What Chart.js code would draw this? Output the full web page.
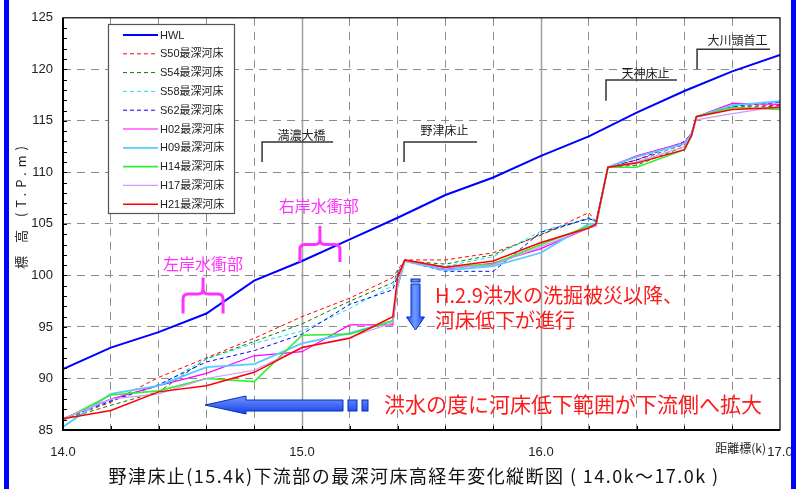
<!DOCTYPE html>
<html>
<head>
<meta charset="utf-8">
<script src="https://cdn.jsdelivr.net/npm/chart.js@4.4.0/dist/chart.umd.min.js"></script>
<style>
html, body { margin: 0; padding: 0; background: #fff; }
canvas { display: block; }
</style>
</head>
<body>
<canvas id="chart" width="810" height="489"></canvas>
<script>
// distance marks (k) shared by the riverbed surveys
var km = [14.0, 14.2, 14.4, 14.6, 14.8, 15.0, 15.2, 15.38, 15.40, 15.43, 15.6, 15.8, 16.0, 16.2, 16.23, 16.28, 16.4, 16.6, 16.63, 16.65, 16.8, 17.0];

var hwlKm = [14.0, 14.2, 14.4, 14.6, 14.8, 15.0, 15.2, 15.4, 15.6, 15.8, 16.0, 16.2, 16.4, 16.6, 16.8, 17.0];
var hwl = [90.9, 93.0, 94.5, 96.3, 99.5, 101.4, 103.5, 105.6, 107.8, 109.5, 111.6, 113.5, 115.8, 117.9, 119.8, 121.4];

var s50 = [86.0, 87.7, 90.1, 92.0, 93.9, 96.0, 97.8, 99.8, 100.5, 101.5, 101.5, 102.2, 103.9, 106.1, 105.2, 110.5, 111.2, 112.7, 113.7, 115.4, 116.4, 116.5];
var s54 = [86.0, 87.4, 88.7, 91.9, 93.6, 95.3, 97.5, 99.3, 100.3, 101.4, 101.1, 102.0, 104.0, 105.6, 105.2, 110.5, 110.7, 112.5, 113.6, 115.4, 116.3, 116.4];
var s58 = [86.0, 87.8, 89.3, 91.9, 93.4, 94.6, 96.8, 99.0, 100.2, 101.4, 100.9, 101.8, 104.3, 105.5, 105.2, 110.5, 111.0, 112.8, 113.7, 115.4, 116.4, 116.8];
var s62 = [86.1, 87.8, 89.4, 91.6, 92.7, 94.3, 97.2, 98.6, 100.0, 101.4, 100.4, 100.4, 104.2, 105.5, 105.3, 110.5, 111.2, 113.0, 113.8, 115.4, 116.4, 116.8];
var h02 = [86.1, 88.0, 89.3, 90.5, 92.2, 92.6, 95.2, 95.2, 99.0, 101.4, 100.6, 101.2, 102.6, 104.6, 104.8, 110.5, 111.6, 112.9, 113.8, 115.4, 116.7, 116.6];
var h09 = [85.3, 88.5, 89.3, 91.1, 91.4, 93.4, 94.4, 95.6, 99.0, 101.4, 100.5, 100.9, 102.2, 105.0, 105.0, 110.5, 111.5, 112.8, 113.7, 115.4, 116.5, 116.9];
var h14 = [86.0, 88.4, 88.8, 90.0, 89.7, 94.2, 94.3, 95.6, 99.0, 101.4, 100.8, 101.1, 103.0, 104.8, 104.8, 110.5, 110.5, 112.2, 113.5, 115.4, 116.3, 116.1];
var h17 = [86.1, 88.0, 88.5, 90.0, 90.8, 93.0, 94.0, 95.4, 99.0, 101.4, 100.7, 101.0, 102.8, 104.6, 104.8, 110.5, 111.0, 112.5, 113.5, 115.1, 115.7, 116.4];
var h21 = [86.1, 86.9, 88.7, 89.3, 90.6, 93.0, 93.9, 96.0, 99.8, 101.5, 100.8, 101.4, 103.2, 104.6, 105.0, 110.5, 110.9, 112.2, 113.6, 115.4, 116.1, 116.3];

var xLabelValues = [14, 15, 16, 17];
var yLabelValues = [85, 90, 95, 100, 105, 110, 115, 120, 125];

var LATIN = '"Liberation Sans", "Noto Sans CJK JP", sans-serif';
var CJK = '"Noto Sans CJK JP", "Liberation Sans", sans-serif';

function pts(xs, ys) {
    return xs.map(function (x, i) { return { x: x, y: ys[i] }; });
}
function isWhole(v, list) {
    return list.some(function (t) { return Math.abs(v - t) < 1e-6; });
}

var series = [
    { label: 'HWL', data: pts(hwlKm, hwl), color: '#0000ff', width: 2, dash: [] },
    { label: 'S50最深河床', data: pts(km, s50), color: '#ff0000', width: 1, dash: [4, 3] },
    { label: 'S54最深河床', data: pts(km, s54), color: '#008000', width: 1, dash: [4, 3] },
    { label: 'S58最深河床', data: pts(km, s58), color: '#19e0ee', width: 1, dash: [4, 3] },
    { label: 'S62最深河床', data: pts(km, s62), color: '#0000ff', width: 1, dash: [4, 3] },
    { label: 'H02最深河床', data: pts(km, h02), color: '#ff00ff', width: 1.2, dash: [] },
    { label: 'H09最深河床', data: pts(km, h09), color: '#55ccff', width: 1.8, dash: [] },
    { label: 'H14最深河床', data: pts(km, h14), color: '#33ee33', width: 1.6, dash: [] },
    { label: 'H17最深河床', data: pts(km, h17), color: '#cc99ff', width: 1.2, dash: [] },
    { label: 'H21最深河床', data: pts(km, h21), color: '#ff0000', width: 1.5, dash: [] }
];

var datasets = series.map(function (s, i) {
    return {
        label: s.label,
        data: s.data,
        borderColor: s.color,
        borderWidth: s.width,
        borderDash: s.dash,
        pointRadius: 0,
        tension: 0,
        fill: false,
        order: series.length - i
    };
});

function brace(ctx, xc, half, top, mid, bottom) {
    var r = 5;
    ctx.beginPath();
    ctx.moveTo(xc - half, bottom);
    ctx.lineTo(xc - half, mid + r);
    ctx.quadraticCurveTo(xc - half, mid, xc - half + r, mid);
    ctx.lineTo(xc - r, mid);
    ctx.quadraticCurveTo(xc, mid, xc, mid - r);
    ctx.lineTo(xc, top);
    ctx.moveTo(xc, mid - r);
    ctx.quadraticCurveTo(xc, mid, xc + r, mid);
    ctx.lineTo(xc + half - r, mid);
    ctx.quadraticCurveTo(xc + half, mid, xc + half, mid + r);
    ctx.lineTo(xc + half, bottom);
    ctx.stroke();
}

function marker(ctx, text, x0, x1, yLine, yDrop, yText) {
    ctx.strokeStyle = '#333';
    ctx.lineWidth = 1.5;
    ctx.beginPath();
    ctx.moveTo(x0, yDrop);
    ctx.lineTo(x0, yLine);
    ctx.lineTo(x1, yLine);
    ctx.stroke();
    ctx.fillStyle = '#222';
    ctx.font = '12px ' + CJK;
    ctx.textAlign = 'center';
    ctx.textBaseline = 'middle';
    ctx.fillText(text, (x0 + x1) / 2 + 4, yText);
}

function fitText(ctx, text, x, y, width) {
    ctx.letterSpacing = '0px';
    var w0 = ctx.measureText(text).width;
    var n = Array.from(text).length;
    ctx.letterSpacing = ((width - w0) / n) + 'px';
    ctx.fillText(text, x, y);
    ctx.letterSpacing = '0px';
}

var decor = {
    id: 'decor',
    beforeDraw: function (chart) {
        var ctx = chart.ctx;
        ctx.save();
        ctx.fillStyle = '#fff';
        ctx.fillRect(0, 0, chart.width, chart.height);
        ctx.restore();
    },
    beforeDatasetsDraw: function (chart) {
        var ctx = chart.ctx, a = chart.chartArea, xs = chart.scales.x;
        ctx.save();
        ctx.strokeStyle = '#a0a0a0';
        ctx.lineWidth = 1.5;
        [15, 16].forEach(function (v) {
            var px = Math.round(xs.getPixelForValue(v)) + 0.5;
            ctx.beginPath();
            ctx.moveTo(px, a.top);
            ctx.lineTo(px, a.bottom);
            ctx.stroke();
        });
        ctx.restore();
    },
    afterDraw: function (chart) {
        var ctx = chart.ctx, a = chart.chartArea;
        var xs = chart.scales.x, ys = chart.scales.y;
        var X = function (v) { return xs.getPixelForValue(v); };
        var Y = function (v) { return ys.getPixelForValue(v); };
        ctx.save();

        // frame
        ctx.strokeStyle = '#000';
        ctx.lineWidth = 1.2;
        ctx.strokeRect(a.left, a.top, a.right - a.left, a.bottom - a.top);
        ctx.lineWidth = 2;
        ctx.beginPath();
        ctx.moveTo(a.left, a.top);
        ctx.lineTo(a.left, a.bottom);
        ctx.lineTo(a.right, a.bottom);
        ctx.stroke();

        // inner ticks
        ctx.lineWidth = 1;
        ctx.beginPath();
        for (var v = 86; v < 125; v++) {
            var py = Math.round(Y(v)) + 0.5;
            ctx.moveTo(a.left, py);
            ctx.lineTo(a.left + 4, py);
        }
        for (var k = 1; k < 15; k++) {
            var px = Math.round(X(14 + k * 0.2)) + 0.5;
            ctx.moveTo(px, a.bottom);
            ctx.lineTo(px, a.bottom - 4);
        }
        ctx.stroke();

        // legend
        ctx.fillStyle = '#fff';
        ctx.fillRect(108, 24, 126, 189);
        ctx.strokeStyle = '#555';
        ctx.lineWidth = 1.2;
        ctx.strokeRect(108.5, 24.5, 126, 189);
        chart.data.datasets.forEach(function (ds, i) {
            var ly = 35 + i * 18.8;
            ctx.strokeStyle = ds.borderColor;
            ctx.lineWidth = Math.max(1, ds.borderWidth);
            ctx.setLineDash(ds.borderDash || []);
            ctx.beginPath();
            ctx.moveTo(123, ly);
            ctx.lineTo(158, ly);
            ctx.stroke();
            ctx.setLineDash([]);
            ctx.fillStyle = '#222';
            ctx.font = '11px ' + LATIN;
            ctx.textAlign = 'left';
            ctx.textBaseline = 'middle';
            ctx.fillText(ds.label, 160, ly + 0.5);
        });

        // structure markers
        marker(ctx, '満濃大橋', X(14.833), X(15.13), Y(112.95), Y(111.0), Y(113.6));
        marker(ctx, '野津床止', X(15.427), X(15.732), Y(112.95), Y(111.0), Y(114.1));
        marker(ctx, '天神床止', X(16.272), X(16.569), Y(118.97), Y(116.95), Y(119.6));
        marker(ctx, '大川頭首工', X(16.653), X(16.958), Y(121.94), Y(120.0), Y(122.8));

        // scour zones
        ctx.strokeStyle = '#ff33ff';
        ctx.fillStyle = '#ff33ff';
        ctx.lineWidth = 3;
        brace(ctx, X(14.586), 20, Y(99.8), Y(98.2), Y(96.3));
        brace(ctx, X(15.075), 20, Y(104.8), Y(103.0), Y(101.3));
        ctx.font = '16px ' + CJK;
        ctx.textAlign = 'center';
        ctx.textBaseline = 'middle';
        ctx.fillText('左岸水衝部', X(14.586), Y(101.1));
        ctx.fillText('右岸水衝部', X(15.07), Y(106.75));

        // arrows
        var g = ctx.createLinearGradient(406, 0, 424, 0);
        g.addColorStop(0, '#1846ff');
        g.addColorStop(0.5, '#6f9cff');
        g.addColorStop(1, '#1846ff');
        ctx.fillStyle = g;
        ctx.strokeStyle = '#0030c0';
        ctx.lineWidth = 1;
        ctx.fillRect(411, 279, 9, 3);
        ctx.strokeRect(411, 279, 9, 3);
        ctx.beginPath();
        ctx.moveTo(411, 284); ctx.lineTo(420, 284); ctx.lineTo(420, 317); ctx.lineTo(424.5, 317);
        ctx.lineTo(415.5, 330); ctx.lineTo(406.5, 317); ctx.lineTo(411, 317); ctx.closePath();
        ctx.fill(); ctx.stroke();

        var g2 = ctx.createLinearGradient(0, 396, 0, 414);
        g2.addColorStop(0, '#6f94ff');
        g2.addColorStop(1, '#1840e6');
        ctx.fillStyle = g2;
        ctx.beginPath();
        ctx.moveTo(205, 405); ctx.lineTo(246, 396); ctx.lineTo(246, 400); ctx.lineTo(343, 400);
        ctx.lineTo(343, 411); ctx.lineTo(246, 411); ctx.lineTo(246, 414); ctx.closePath();
        ctx.fill(); ctx.stroke();
        ctx.fillRect(348, 400, 9, 11); ctx.strokeRect(348, 400, 9, 11);
        ctx.fillRect(362, 400, 6, 11); ctx.strokeRect(362, 400, 6, 11);

        // red notes
        ctx.fillStyle = '#ff1a1a';
        ctx.textAlign = 'left';
        ctx.textBaseline = 'middle';
        ctx.font = '20px ' + CJK;
        ctx.fillText('H.2.9洪水の洗掘被災以降、', 435, 295);
        ctx.fillText('河床低下が進行', 435, 320);
        ctx.font = '21px ' + CJK;
        ctx.fillText('洪水の度に河床低下範囲が下流側へ拡大', 384, 404);

        // axis titles
        ctx.fillStyle = '#222';
        ctx.font = '12px ' + CJK;
        ctx.textAlign = 'right';
        ctx.fillText('距離標(k)', 766, 448);
        ctx.save();
        ctx.translate(21, 205);
        ctx.rotate(-Math.PI / 2);
        ctx.textAlign = 'center';
        ctx.font = '13px ' + CJK;
        fitText(ctx, '標 高 (T.P.m)', 0, 0, 128);
        ctx.restore();

        // figure title
        ctx.fillStyle = '#111';
        ctx.font = '18px ' + CJK;
        ctx.textAlign = 'center';
        fitText(ctx, '野津床止(15.4k)下流部の最深河床高経年変化縦断図 ( 14.0k～17.0k )', 414, 476, 611);

        // side bars
        ctx.fillStyle = '#0000ff';
        ctx.fillRect(4, 0, 5, chart.height);
        ctx.fillRect(791, 0, 5, chart.height);
        ctx.fillStyle = '#fff';
        ctx.fillRect(796, 0, 14, chart.height);

        ctx.restore();
    }
};

new Chart(document.getElementById('chart'), {
    type: 'line',
    data: { datasets: datasets },
    options: {
        responsive: false,
        animation: false,
        devicePixelRatio: 1,
        layout: { padding: { top: 12, right: 30, left: 0, bottom: 0 } },
        plugins: { legend: { display: false }, tooltip: { enabled: false } },
        scales: {
            x: {
                type: 'linear',
                min: 14,
                max: 17,
                afterFit: function (s) { s.height = 59; },
                ticks: {
                    stepSize: 0.2,
                    autoSkip: false,
                    maxRotation: 0,
                    padding: 15,
                    color: '#222',
                    font: { family: LATIN, size: 13 },
                    callback: function (v) { return isWhole(v, xLabelValues) ? Number(v).toFixed(1) : ''; }
                },
                grid: {
                    drawTicks: false,
                    lineWidth: 1,
                    color: function (c) {
                        return c.tick && isWhole(c.tick.value, xLabelValues) ? 'rgba(0,0,0,0)' : '#8c8c8c';
                    }
                },
                border: { display: false, dash: [8, 6] }
            },
            y: {
                min: 85,
                max: 125,
                afterFit: function (s) { s.width = 63; },
                ticks: {
                    stepSize: 5,
                    padding: 10,
                    color: '#222',
                    font: { family: LATIN, size: 13 },
                    callback: function (v) { return isWhole(v, yLabelValues) ? String(v) : ''; }
                },
                grid: {
                    drawTicks: false,
                    lineWidth: 1,
                    color: function (c) {
                        return c.tick && (c.tick.value === 85 || c.tick.value === 125) ? 'rgba(0,0,0,0)' : '#8c8c8c';
                    }
                },
                border: { display: false, dash: [8, 6] }
            }
        }
    },
    plugins: [decor]
});
</script>
</body>
</html>
